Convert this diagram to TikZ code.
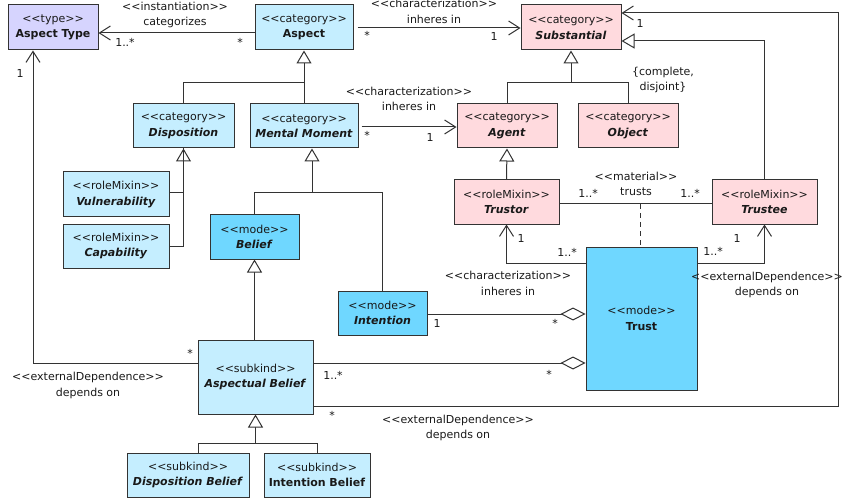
\documentclass[tikz,border=0pt]{standalone}
\usepackage{fontspec}
\setmainfont{DejaVu Sans}
\usepackage{tikz}
\usetikzlibrary{arrows.meta}

\definecolor{typefill}{HTML}{D6D4FE}
\definecolor{catfill}{HTML}{C5EEFF}
\definecolor{modefill}{HTML}{6FD7FF}
\definecolor{kindfill}{HTML}{FFDADE}
\definecolor{umlline}{HTML}{333333}

% stereotype, kept apart so that << does not turn into a guillemet
\newcommand{\stereo}[1]{<\kern0pt<#1>\kern0pt>}

\begin{document}
\begin{tikzpicture}[x=1pt, y=-1pt,
	every node/.style={font=\fontsize{11}{15.5}\selectfont, text=black!90},
	cls/.style={draw=umlline, line width=1pt, inner sep=0pt, align=center},
	typecls/.style={cls, fill=typefill},
	catcls/.style={cls, fill=catfill},
	modecls/.style={cls, fill=modefill},
	kindcls/.style={cls, fill=kindfill},
	lbl/.style={inner sep=0pt, align=center},
	mult/.style={inner sep=0pt},
	rel/.style={draw=umlline, line width=1pt},
	nav/.style={rel, arrows={-Straight Barb[length=11pt, width=14pt]}},
	gen/.style={rel, arrows={-Triangle[open, fill=white, length=13pt, width=15pt]}},
	agg/.style={rel, arrows={Diamond[open, fill=white, length=25pt, width=13pt]-}}]
	\useasboundingbox (0,0) rectangle (844,500);

	% top row
	\node [typecls, minimum width=90, minimum height=45] (aspecttype) at (53,27.5) {\stereo{type}\\\textbf{Aspect Type}};
	\node [catcls, minimum width=98, minimum height=45] (aspect) at (304,27.5) {\stereo{category}\\\textbf{Aspect}};
	\node [kindcls, minimum width=100, minimum height=45] (substantial) at (571,27.5) {\stereo{category}\\\textbf{\textit{Substantial}}};

	% second row
	\node [catcls, minimum width=101, minimum height=44] (disposition) at (183.5,126) {\stereo{category}\\\textbf{\textit{Disposition}}};
	\node [catcls, minimum width=108, minimum height=44] (mentalmoment) at (304,126) {\stereo{category}\\\textbf{\textit{Mental Moment}}};
	\node [kindcls, minimum width=100, minimum height=44] (agent) at (507,126) {\stereo{category}\\\textbf{\textit{Agent}}};
	\node [kindcls, minimum width=100, minimum height=44] (object) at (628,126) {\stereo{category}\\\textbf{\textit{Object}}};

	% roles and modes
	\node [catcls, minimum width=106, minimum height=45] (vulnerability) at (116,194.5) {\stereo{roleMixin}\\\textbf{\textit{Vulnerability}}};
	\node [catcls, minimum width=106, minimum height=44] (capability) at (116,246) {\stereo{roleMixin}\\\textbf{\textit{Capability}}};
	\node [modecls, minimum width=89, minimum height=44] (belief) at (254.5,237) {\stereo{mode}\\\textbf{\textit{Belief}}};
	\node [kindcls, minimum width=105, minimum height=44] (trustor) at (506.5,202) {\stereo{roleMixin}\\\textbf{\textit{Trustor}}};
	\node [kindcls, minimum width=105, minimum height=44] (trustee) at (764.5,202) {\stereo{roleMixin}\\\textbf{\textit{Trustee}}};
	\node [modecls, minimum width=89, minimum height=44] (intention) at (382.5,313) {\stereo{mode}\\\textbf{\textit{Intention}}};
	\node [modecls, minimum width=111, minimum height=143] (trust) at (641.5,318.5) {\stereo{mode}\\\textbf{Trust}};

	% subkinds
	\node [catcls, minimum width=115, minimum height=74] (aspectualbelief) at (255.5,377) {\stereo{subkind}\\\textbf{\textit{Aspectual Belief}}};
	\node [catcls, minimum width=122, minimum height=44] (dispositionbelief) at (188,475) {\stereo{subkind}\\\textbf{\textit{Disposition Belief}}};
	\node [catcls, minimum width=106, minimum height=44] (intentionbelief) at (317,475) {\stereo{subkind}\\\textbf{Intention Belief}};

	% generalizations
	\draw [rel] (disposition.north) |- (mentalmoment.north |- 0,83);
	\draw [gen] (mentalmoment.north) -- (aspect.south);
	\coordinate (subfork) at (571,83);
	\draw [gen] (agent.north) |- (subfork) -- (substantial.south);
	\draw [rel] (object.north) |- (subfork);
	\node [lbl] (complete) at (663,80) {\{complete,\\disjoint\}};
	\draw [gen] (capability.east) -| (disposition.south);
	\draw [rel] (vulnerability.east |- 0,193) -| (disposition.south);
	\coordinate (mmfork) at (312,193);
	\draw [gen] (belief.north) |- (mmfork) -- (mmfork |- mentalmoment.south);
	\draw [rel] (intention.north) |- (mmfork);
	\draw [gen] (trustor.north) -- (agent.south);
	\draw [gen] (trustee.north) |- (substantial.east |- 0,41);
	\draw [gen] (belief.south |- aspectualbelief.north) -- (belief.south);
	\coordinate (abfork) at (255.5,443);
	\draw [gen] (dispositionbelief.north -| 198,0) |- (abfork) -- (aspectualbelief.south);
	\draw [rel] (intentionbelief.north) |- (abfork);

	% instantiation
	\draw [nav] (aspect.west |- 0,33) -- (aspecttype.east |- 0,33);
	\node [lbl] (instlbl) at (175,15) {\stereo{instantiation}\\categorizes};
	\node [mult] (instm1) at (125,42) {1..*};
	\node [mult] (instm2) at (240,42) {*};

	% characterizations
	\draw [nav] ([xshift=4pt]aspect.east |- 0,28) -- (substantial.west |- 0,28);
	\node [lbl] (charlbla) at (434,11.5) {\stereo{characterization}\\inheres in};
	\node [mult] (charam1) at (367,35) {*};
	\node [mult] (charam2) at (494,36) {1};
	\draw [nav] ([xshift=3pt]mentalmoment.east |- 0,127) -- (agent.west |- 0,127);
	\node [lbl] (charlblb) at (409,99) {\stereo{characterization}\\inheres in};
	\node [mult] (charbm1) at (367,135) {*};
	\node [mult] (charbm2) at (430,137) {1};
	\draw [agg] (trust.west |- 0,314) -- (intention.east |- 0,314);
	\node [lbl] (charlblc) at (508,283.5) {\stereo{characterization}\\inheres in};
	\node [mult] (charcm1) at (437,323) {1};
	\node [mult] (charcm2) at (555,323) {*};
	\draw [nav] (trust.west |- 0,263) -| (trustor.south);
	\node [mult] (trm1) at (521,238) {1};
	\node [mult] (trm2) at (567,252) {1..*};

	% material relation
	\draw [rel] (trustor.east |- 0,204) -- (trustee.west |- 0,204);
	\node [lbl] (matlbl) at (636,184) {\stereo{material}\\trusts};
	\node [mult] (matm1) at (588,193) {1..*};
	\node [mult] (matm2) at (690,193) {1..*};
	\coordinate (trustsmid) at (640,204);
	\draw [rel, dash pattern=on 5pt off 4pt] (trustsmid) -- (trustsmid |- trust.north);

	% external dependences
	\draw [nav] (trust.east |- 0,263) -| (trustee.south);
	\node [lbl] (extlbla) at (767,285) {\stereo{externalDependence}\\depends on};
	\node [mult] (exam1) at (737,238) {1};
	\node [mult] (exam2) at (713,251) {1..*};
	\draw [agg] (trust.west |- 0,363) -- (aspectualbelief.east |- 0,363);
	\node [mult] (aggm1) at (333,375) {1..*};
	\node [mult] (aggm2) at (549,374) {*};
	\draw [nav] (aspectualbelief.west |- 0,363) -| (aspecttype.south -| 33,0);
	\node [lbl] (extlblb) at (88,385.5) {\stereo{externalDependence}\\depends on};
	\node [mult] (exbm1) at (20,73) {1};
	\node [mult] (exbm2) at (190,353) {*};
	\coordinate (outer) at (838,13);
	\draw [nav] (aspectualbelief.east |- 0,406) -| (outer) -- (substantial.east |- outer);
	\node [lbl] (extlblc) at (458,428) {\stereo{externalDependence}\\depends on};
	\node [mult] (excm1) at (640,23) {1};
	\node [mult] (excm2) at (332,415) {*};
\end{tikzpicture}
\end{document}
